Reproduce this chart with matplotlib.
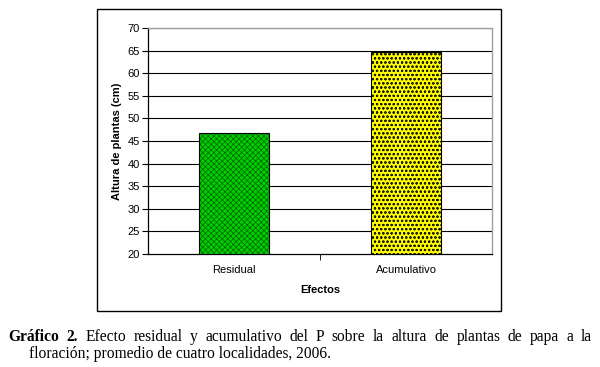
import matplotlib
matplotlib.use("Agg")
import matplotlib.pyplot as plt
from matplotlib.patches import Rectangle

categories = ["Residual", "Acumulativo"]
values = [46.7, 64.8]
yticks = [20, 25, 30, 35, 40, 45, 50, 55, 60, 65, 70]
xlabel = "Efectos"
ylabel = "Altura de plantas (cm)"
caption_bold = "Gráfico 2."
caption_line1 = "Efecto residual y acumulativo del P sobre la altura de plantas de papa a la"
caption_line2 = "floración; promedio de cuatro localidades, 2006."

W, H = 600, 367
fig = plt.figure(figsize=(6, 3.67), dpi=100)
fig.patch.set_facecolor("white")

def fx(px):
    return px / W

def fy(py):
    return 1 - py / H

# outer chart box
fig.patches.append(Rectangle((fx(97), fy(311)), fx(501) - fx(97), fy(9) - fy(311),
                             transform=fig.transFigure, fill=False, edgecolor="black",
                             linewidth=1.0))

ax = fig.add_axes([fx(148), fy(254), fx(492) - fx(148), fy(28) - fy(254)])
ax.set_xlim(-0.5, 1.5)
ax.set_ylim(20, 70)
for y in yticks[1:]:
    ax.axhline(y, color="black", linewidth=0.8, zorder=1)

sans = ["Liberation Sans", "DejaVu Sans"]
colors = ["#00d000", "#ffff00"]
hatch_colors = ["#006000", "#202000"]
hatches = ["xxxxxx", "oooo"]
plt.rcParams["hatch.linewidth"] = 0.5
bars = ax.bar(range(len(categories)), [v - 20 for v in values], bottom=20, width=0.41,
              color=colors, edgecolor="black", linewidth=0.8, zorder=3)
for b, hc, h in zip(bars, hatch_colors, hatches):
    b.set_hatch(h)
    b._hatch_color = matplotlib.colors.to_rgba(hc)

for s in ["top", "right"]:
    ax.spines[s].set_color("#a0a0a0")
    ax.spines[s].set_linewidth(1.0)
for s in ["left", "bottom"]:
    ax.spines[s].set_color("black")
    ax.spines[s].set_linewidth(0.9)

ax.set_yticks(yticks)
ax.set_yticklabels([str(t) for t in yticks], fontsize=8, family=sans)
ax.set_xticks([0, 1])
ax.set_xticklabels(categories, fontsize=8, family=sans)
ax.set_xticks([0.5], minor=True)
ax.tick_params(axis="x", which="major", length=0, pad=8)
ax.tick_params(axis="x", which="minor", length=4, direction="out")
ax.tick_params(axis="y", length=4, direction="out", pad=2)
ax.set_xlabel(xlabel, fontsize=8, fontweight="bold", family=sans, labelpad=7)
ax.set_ylabel(ylabel, fontsize=8, fontweight="bold", family=sans, labelpad=4)

# caption, justified first line
serif = ["Liberation Serif", "DejaVu Serif"]
fig.canvas.draw()
r = fig.canvas.get_renderer()
fs = 11.2
x0, x1 = 8, 592
y1 = 341
words = [(caption_bold.split()[0], "bold"), (caption_bold.split()[1], "bold")] + \
        [(w, "normal") for w in caption_line1.split()]
texts = []
total = 0
for w, wt in words:
    t = fig.text(0, fy(y1), w, fontsize=fs, fontweight=wt, family=serif, va="baseline", ha="left")
    bb = t.get_window_extent(renderer=r)
    texts.append((t, bb.width))
    total += bb.width
gap = (x1 - x0 - total) / (len(words) - 1)
x = x0
for t, wdt in texts:
    t.set_x(fx(x))
    x += wdt + gap
fig.text(fx(29), fy(358), caption_line2, fontsize=fs, family=serif, va="baseline", ha="left")

fig.savefig("out.png", dpi=100, facecolor="white")
